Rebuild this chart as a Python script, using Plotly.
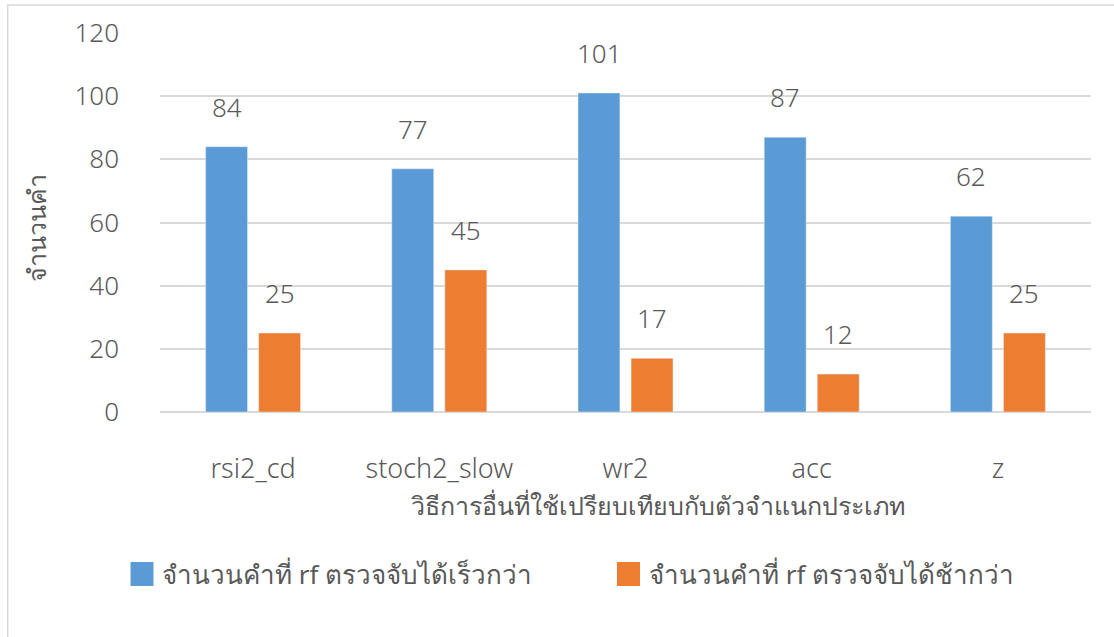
import plotly.graph_objects as go

# Methods compared against the rf classifier
categories = ["rsi2_cd", "stoch2_slow", "wr2", "acc", "z"]
faster_counts = [84, 77, 101, 87, 62]   # words rf detects faster
slower_counts = [25, 45, 17, 12, 25]    # words rf detects slower

series_names = [
    "จำนวนคำที่ rf ตรวจจับได้เร็วกว่า",
    "จำนวนคำที่ rf ตรวจจับได้ช้ากว่า",
]
x_title = "วิธีการอื่นที่ใช้เปรียบเทียบกับตัวจำแนกประเภท"
y_title = "จำนวนคำ"
y_ticks = [0, 20, 40, 60, 80, 100, 120]

BLUE = "#5B9BD5"
ORANGE = "#ED7D31"
TEXT = "#595959"
GRID = "#D9D9D9"
FONT = "Noto Sans, DejaVu Sans, sans-serif"


def light(size):
    # light weight for Latin labels and numbers
    return dict(family=FONT, size=size, color=TEXT, weight=300)


def plain(size):
    # regular text (Thai labels)
    return dict(family=FONT, size=size, color=TEXT)


fig = go.Figure()
fig.add_trace(go.Bar(x=categories, y=faster_counts, name=series_names[0],
                     marker_color=BLUE, showlegend=False))
fig.add_trace(go.Bar(x=categories, y=slower_counts, name=series_names[1],
                     marker_color=ORANGE, showlegend=False))

# Value labels floating above each bar
annotations = []
for vals, shift in ((faster_counts, -26.5), (slower_counts, 26.5)):
    for c, v in zip(categories, vals):
        annotations.append(dict(
            x=c, y=v, xref="x", yref="y", text=str(v), showarrow=False,
            xshift=shift, yshift=40, yanchor="middle", font=light(26)))

# Axis titles
annotations.append(dict(
    x=0.535, y=-0.245, xref="paper", yref="paper", text=x_title,
    showarrow=False, xanchor="center", yanchor="middle", font=plain(25)))
annotations.append(dict(
    x=-0.133, y=0.485, xref="paper", yref="paper", text=y_title,
    showarrow=False, textangle=-90, xanchor="center", yanchor="middle",
    font=plain(25)))

# Legend drawn as swatches with labels underneath the plot
shapes = []
legend_items = [(series_names[0], BLUE, 130), (series_names[1], ORANGE, 617)]
for name, color, px in legend_items:
    x0 = (px - 159.5) / 932.0
    x1 = (px + 23 - 159.5) / 932.0
    shapes.append(dict(type="rect", xref="paper", yref="paper",
                       x0=x0, x1=x1, y0=(412 - 586) / 379.0,
                       y1=(412 - 562) / 379.0,
                       fillcolor=color, line=dict(width=0)))
    annotations.append(dict(
        x=(px + 30 - 159.5) / 932.0, y=(412 - 574) / 379.0,
        xref="paper", yref="paper", text=name, showarrow=False,
        xanchor="left", yanchor="middle", font=plain(26)))

# Outer chart frame
shapes.append(dict(type="rect", xref="paper", yref="paper",
                   x0=(7 - 159.5) / 932.0, x1=(1125 - 159.5) / 932.0,
                   y0=(412 - 660) / 379.0, y1=(412 - 5) / 379.0,
                   line=dict(color=GRID, width=1.5), fillcolor="rgba(0,0,0,0)",
                   layer="below"))

fig.update_layout(
    width=1114, height=637,
    margin=dict(l=159.5, r=22.5, t=33, b=225),
    paper_bgcolor="white", plot_bgcolor="white",
    barmode="group", bargap=0.43, bargroupgap=0.21,
    font=plain(25),
    annotations=annotations, shapes=shapes,
    xaxis=dict(showgrid=False, showline=False, zeroline=False,
               ticks="", ticklabelstandoff=38, tickfont=light(27)),
    yaxis=dict(range=[0, 120], tickvals=y_ticks, showgrid=True,
               gridcolor=GRID, gridwidth=1.5, zeroline=True,
               zerolinecolor=GRID, zerolinewidth=2, showline=False,
               ticks="", ticklabelstandoff=40, tickfont=light(26)),
)

fig.write_html("out.html")
